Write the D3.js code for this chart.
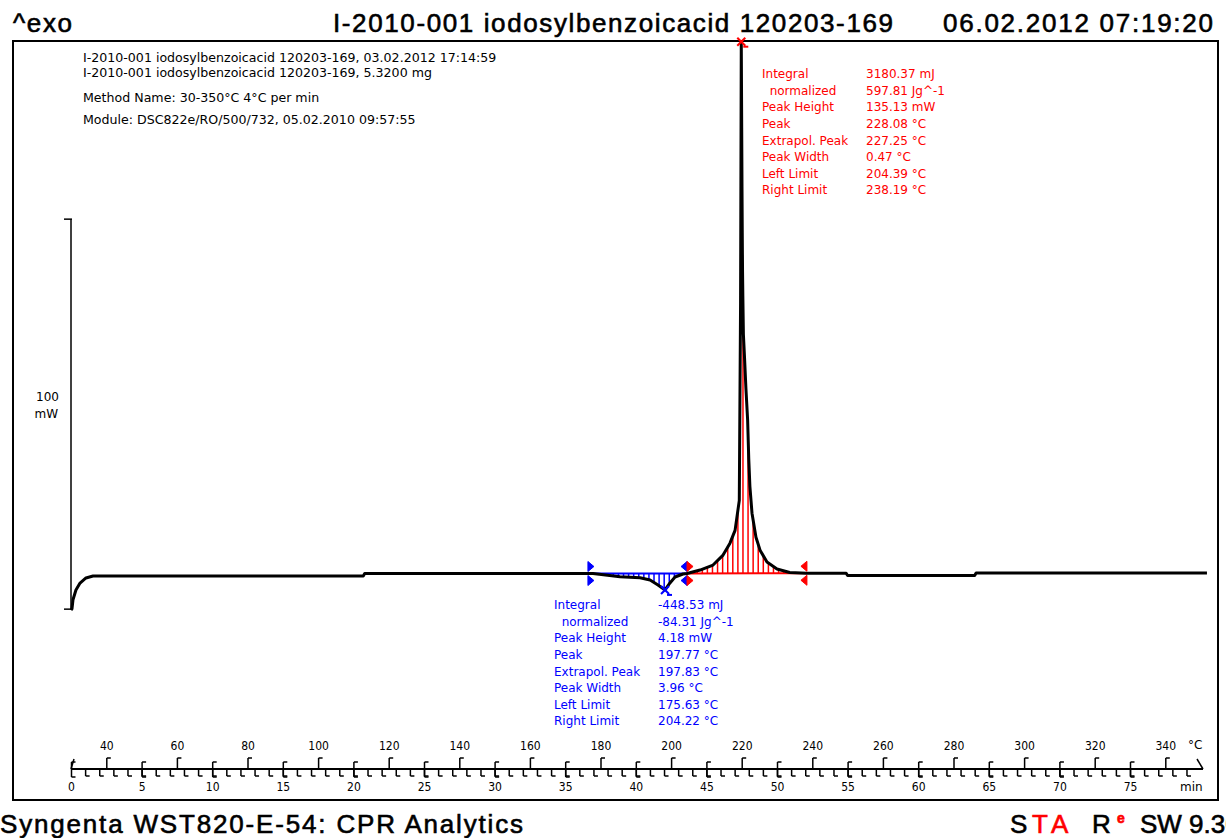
<!DOCTYPE html>
<html>
<head>
<meta charset="utf-8">
<script src="https://cdn.jsdelivr.net/npm/d3@7"></script>
<style>
body { margin: 0; background: #fff; }
svg { display: block; }
.info { font-family: "DejaVu Sans", sans-serif; font-size: 12px; white-space: pre; }
.infoLine { font-size: 12.6px; }
.big { font-family: "Liberation Sans", Arial, sans-serif; font-size: 26px; stroke: #000; stroke-width: 0.6px; }
.axis text { font-family: "DejaVu Sans Condensed", "DejaVu Sans", sans-serif; font-size: 12px; }
</style>
</head>
<body>
<svg id="chart"></svg>
<script>
// DSC curve: time in min, heat flow in mW (exo up)
let timeMin = [0, 0.07, 0.14, 0.35, 0.64, 1.06, 1.56, 2.5, 10, 20.7,
    20.8, 30, 36.61, 36.97, 38.88, 40.30, 41.01, 41.57, 42.07, 42.42,
    42.78, 43.34, 43.63, 44.55, 45.47, 46.18, 46.67, 47.03, 47.33, 47.42,
    47.47, 47.50, 47.52, 47.54, 47.56, 47.58, 47.62, 47.70, 47.80, 47.92,
    48.00, 48.08, 48.23, 48.51, 48.80, 49.29, 50.0, 50.9, 52.1, 54.9,
    55.0, 64.0, 64.1, 80.45];
let heatFlow = [-8.7, -8.4, -6.1, -3.6, -1.8, -0.5, 0, 0, 0, 0,
    0.62, 0.62, 0.64, 0.62, -0.18, -0.43, -1.02, -2.30, -3.57, -1.79,
    -0.26, 0.51, 0.64, 1.53, 2.81, 5.36, 8.42, 11.7, 19.4, 70,
    137, 115, 100, 88, 78, 72, 62, 56, 48, 40,
    30, 23, 16.1, 9.95, 6.63, 3.57, 1.8, 0.9, 0.7, 0.72,
    0.13, 0.13, 0.77, 0.77];

let tempTicks = [40, 60, 80, 100, 120, 140, 160, 180, 200, 220, 240, 260, 280, 300, 320, 340];
let timeTicks = [0, 5, 10, 15, 20, 25, 30, 35, 40, 45, 50, 55, 60, 65, 70, 75];

// evaluated peaks (limits in min)
let bluePeak = {from: 36.61, to: 43.63, top: 42.07};
let redPeak = {from: 43.63, to: 52.12, top: 47.47};

let infoLines = [
    "I-2010-001 iodosylbenzoicacid 120203-169, 03.02.2012 17:14:59",
    "I-2010-001 iodosylbenzoicacid 120203-169, 5.3200 mg",
    "Method Name: 30-350°C 4°C per min",
    "Module: DSC822e/RO/500/732, 05.02.2010 09:57:55"
];
let labelNames = ["Integral", "  normalized", "Peak Height", "Peak", "Extrapol. Peak", "Peak Width", "Left Limit", "Right Limit"];
let redValues = ["3180.37 mJ", "597.81 Jg^-1", "135.13 mW", "228.08 °C", "227.25 °C", "0.47 °C", "204.39 °C", "238.19 °C"];
let blueValues = ["-448.53 mJ", "-84.31 Jg^-1", "4.18 mW", "197.77 °C", "197.83 °C", "3.96 °C", "175.63 °C", "204.22 °C"];

let width = 1226, height = 838;
let svg = d3.select("#chart").attr("width", width).attr("height", height);

let data = timeMin.map((t, i) => ({t: t, v: heatFlow[i]}));

// scales
let x = d3.scaleLinear().domain([0, 80]).range([71, 1200.6]);
let xT = d3.scaleLinear().domain([30, 350]).range([71, 1200.6]); // 4 °C/min
let y = d3.scaleLinear().domain([0, 100]).range([576, 186]);

let bis = d3.bisector(d => d.t).left;
function valueAt(t) {
    let i = bis(data, t);
    if (i <= 0) return data[0].v;
    if (i >= data.length) return data[data.length - 1].v;
    let a = data[i - 1], b = data[i];
    return a.v + (b.v - a.v) * (t - a.t) / (b.t - a.t);
}

// frame
svg.append("rect")
    .attr("x", 13).attr("y", 41).attr("width", 1205).attr("height", 759)
    .attr("fill", "none").attr("stroke", "#000").attr("stroke-width", 2);

// header / footer
svg.append("text").attr("class", "big").attr("x", 13).attr("y", 32)
    .attr("textLength", 59).attr("lengthAdjust", "spacing").text("^exo");
svg.append("text").attr("class", "big").attr("x", 333).attr("y", 32)
    .attr("textLength", 560).attr("lengthAdjust", "spacing")
    .text("I-2010-001 iodosylbenzoicacid 120203-169");
svg.append("text").attr("class", "big").attr("x", 943).attr("y", 32)
    .attr("textLength", 270).attr("lengthAdjust", "spacing")
    .text("06.02.2012 07:19:20");
svg.append("text").attr("class", "big").attr("x", 0).attr("y", 833)
    .attr("textLength", 523).attr("lengthAdjust", "spacing")
    .text("Syngenta WST820-E-54: CPR Analytics");

let star = svg.append("text").attr("class", "big").attr("y", 833);
star.append("tspan").attr("x", 1010).text("S");
star.append("tspan").attr("x", 1032).attr("fill", "#f00").attr("stroke", "#f00").text("T");
star.append("tspan").attr("x", 1051).attr("fill", "#f00").attr("stroke", "#f00").text("A");
star.append("tspan").attr("x", 1092).text("R");
star.append("tspan").attr("x", 1117).attr("dy", -10).attr("fill", "#f00").attr("stroke", "#f00")
    .style("font-size", "14px").style("font-weight", "bold").text("e");
star.append("tspan").attr("x", 1140).attr("dy", 10).text("SW 9.30");

// sample info
let infoY = [58, 73, 98, 120];
svg.selectAll(".infoLine").data(infoLines).enter().append("text")
    .attr("class", "info infoLine")
    .attr("x", 83).attr("y", (d, i) => infoY[i]).attr("dy", "0.35em")
    .text(d => d);

// 100 mW scale bar
let barStart = -8.5;
let bar = svg.append("g").attr("stroke", "#000").attr("stroke-width", 1.5);
bar.append("line").attr("x1", 71).attr("x2", 71).attr("y1", y(barStart)).attr("y2", y(barStart + 100));
bar.append("line").attr("x1", 64).attr("x2", 72).attr("y1", y(barStart)).attr("y2", y(barStart));
bar.append("line").attr("x1", 64).attr("x2", 72).attr("y1", y(barStart + 100)).attr("y2", y(barStart + 100));
svg.append("text").attr("class", "info").attr("x", 59).attr("y", 397).attr("dy", "0.35em")
    .attr("text-anchor", "end").text("100");
svg.append("text").attr("class", "info").attr("x", 58).attr("y", 414).attr("dy", "0.35em")
    .attr("text-anchor", "end").text("mW");

// integration areas
function drawArea(peak, color, step) {
    let v0 = valueAt(peak.from), v1 = valueAt(peak.to);
    let base = t => v0 + (v1 - v0) * (t - peak.from) / (peak.to - peak.from);
    let g = svg.append("g").attr("stroke", color).attr("fill", color);
    g.append("line").attr("stroke-width", 2)
        .attr("x1", x(peak.from)).attr("x2", x(peak.to))
        .attr("y1", y(v0)).attr("y2", y(v1));
    let hatch = d3.range(peak.from + step, peak.to, step)
        .filter(t => Math.abs(valueAt(t) - base(t)) > 0.2);
    g.selectAll(".hatch").data(hatch).enter().append("line")
        .attr("stroke-width", 1.5)
        .attr("x1", t => x(t)).attr("x2", t => x(t))
        .attr("y1", t => y(base(t))).attr("y2", t => y(valueAt(t)));
    return {v0: v0, v1: v1};
}
let bArea = drawArea(bluePeak, "#00f", 0.36);
let rArea = drawArea(redPeak, "#f00", 0.36);

// curve
let line = d3.line().x(d => x(d.t)).y(d => y(d.v));
svg.append("path").datum(data)
    .attr("d", line)
    .attr("fill", "none").attr("stroke", "#000").attr("stroke-width", 3)
    .attr("stroke-linejoin", "round");

// limit markers (triangles pointing into the area)
function limitMarks(t, v, dir, color) {
    let px = x(t), py = y(v);
    [-7, 7].forEach(off => {
        let cy = py + off;
        svg.append("path")
            .attr("d", `M${px},${cy - 5}L${px + dir * 6},${cy}L${px},${cy + 5}Z`)
            .attr("fill", color).attr("stroke", color).attr("stroke-width", 1);
    });
}
limitMarks(bluePeak.from, bArea.v0, 1, "#00f");
limitMarks(bluePeak.to, bArea.v1, -1, "#00f");
limitMarks(redPeak.from, rArea.v0, 1, "#f00");
limitMarks(redPeak.to, rArea.v1, -1, "#f00");

// peak markers
function peakMark(t, v, color) {
    let px = x(t), py = y(v);
    let g = svg.append("g").attr("stroke", color).attr("stroke-width", 2);
    g.append("line").attr("x1", px - 4).attr("x2", px + 4).attr("y1", py - 4).attr("y2", py + 4);
    g.append("line").attr("x1", px - 4).attr("x2", px + 4).attr("y1", py + 4).attr("y2", py - 4);
    g.append("line").attr("x1", px + 2).attr("x2", px + 7).attr("y1", py + 5).attr("y2", py + 5);
}
peakMark(bluePeak.top, valueAt(bluePeak.top), "#00f");
peakMark(redPeak.top, valueAt(redPeak.top), "#f00");

// evaluation texts
function evalText(values, color, x0, x1, y0) {
    let g = svg.append("g").attr("fill", color);
    g.selectAll(".lab").data(labelNames).enter().append("text")
        .attr("class", "info").attr("x", x0).attr("y", (d, i) => y0 + i * 16.6)
        .attr("dy", "0.35em").text(d => d);
    g.selectAll(".val").data(values).enter().append("text")
        .attr("class", "info").attr("x", x1).attr("y", (d, i) => y0 + i * 16.6)
        .attr("dy", "0.35em").text(d => d);
}
evalText(redValues, "#f00", 762, 866, 74);
evalText(blueValues, "#00f", 554, 658, 605);

// bottom axes
let axisY = 769;
let tempAxis = d3.axisTop(xT).tickValues(tempTicks).tickSize(11).tickSizeOuter(0).tickPadding(8);
let gT = svg.append("g").attr("class", "axis").attr("transform", `translate(0,${axisY})`).call(tempAxis);
gT.select(".domain").remove();
gT.selectAll(".tick").append("line").attr("x1", 0).attr("x2", 4).attr("y1", -11).attr("y2", -11);

let minorAxis = d3.axisBottom(x).tickValues(d3.range(1, 80)).tickSize(7).tickSizeOuter(0).tickFormat("");
let gM = svg.append("g").attr("class", "axis").attr("transform", `translate(0,${axisY})`).call(minorAxis);
gM.select(".domain").remove();
gM.selectAll(".tick").append("line").attr("x1", 0).attr("x2", 4).attr("y1", 7).attr("y2", 7);

let timeAxis = d3.axisBottom(x).tickValues(timeTicks).tickSize(8).tickSizeOuter(0).tickPadding(5);
let gX = svg.append("g").attr("class", "axis").attr("transform", `translate(0,${axisY})`).call(timeAxis);
gX.select(".domain").remove();
gX.selectAll(".tick line").attr("y1", -7);
gX.selectAll(".tick").append("line").attr("x1", 0).attr("x2", 4).attr("y1", -7).attr("y2", -7);
gX.selectAll(".tick").append("line").attr("x1", 0).attr("x2", 4).attr("y1", 8).attr("y2", 8);

svg.selectAll(".axis line").attr("stroke", "#000").attr("stroke-width", 1.5);

svg.append("line").attr("x1", x(0)).attr("x2", 1203).attr("y1", axisY).attr("y2", axisY)
    .attr("stroke", "#000").attr("stroke-width", 2);
svg.append("line").attr("x1", x(0)).attr("x2", x(0) + 3).attr("y1", axisY).attr("y2", axisY - 10)
    .attr("stroke", "#000").attr("stroke-width", 1.5);
svg.append("line").attr("x1", 1197).attr("x2", 1203).attr("y1", axisY - 10).attr("y2", axisY)
    .attr("stroke", "#000").attr("stroke-width", 1.5);

svg.append("text").attr("class", "info").attr("x", 1188).attr("y", 745).attr("dy", "0.35em").text("°C");
svg.append("text").attr("class", "info").attr("x", 1180).attr("y", 787).attr("dy", "0.35em").text("min");
</script>
</body>
</html>
